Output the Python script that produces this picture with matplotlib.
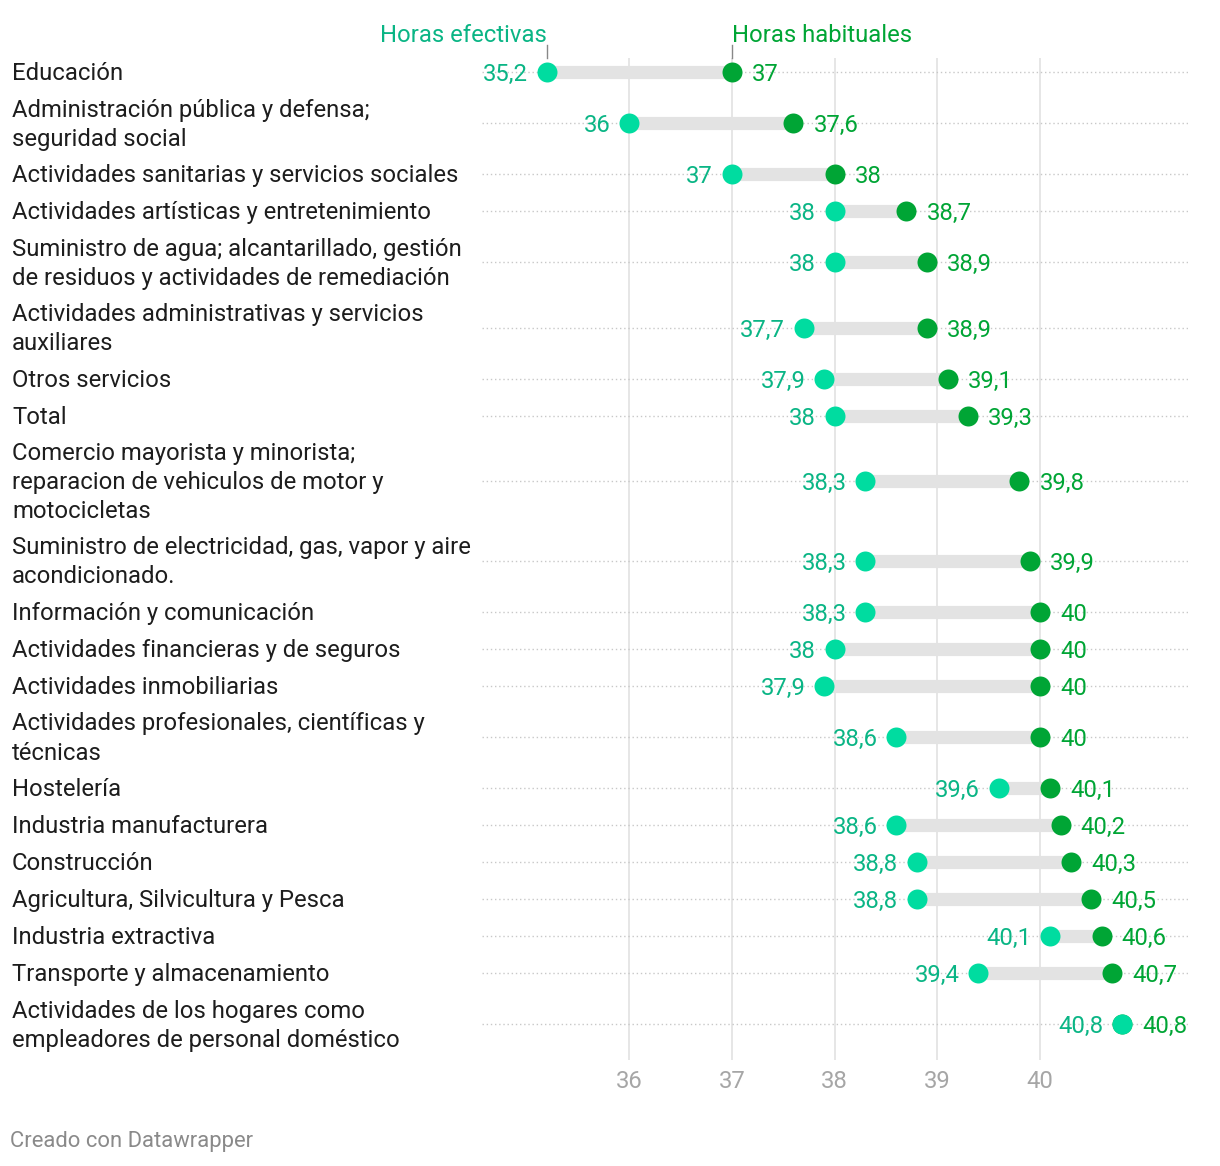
import matplotlib.pyplot as plt
import matplotlib.transforms as mtransforms
import numpy as np

plt.rcParams['font.family'] = ['Roboto', 'DejaVu Sans']

sectores = [
    "Educación",
    "Administración pública y defensa;\nseguridad social",
    "Actividades sanitarias y servicios sociales",
    "Actividades artísticas y entretenimiento",
    "Suministro de agua; alcantarillado, gestión\nde residuos y actividades de remediación",
    "Actividades administrativas y servicios\nauxiliares",
    "Otros servicios",
    "Total",
    "Comercio mayorista y minorista;\nreparacion de vehiculos de motor y\nmotocicletas",
    "Suministro de electricidad, gas, vapor y aire\nacondicionado.",
    "Información y comunicación",
    "Actividades financieras y de seguros",
    "Actividades inmobiliarias",
    "Actividades profesionales, científicas y\ntécnicas",
    "Hostelería",
    "Industria manufacturera",
    "Construcción",
    "Agricultura, Silvicultura y Pesca",
    "Industria extractiva",
    "Transporte y almacenamiento",
    "Actividades de los hogares como\nempleadores de personal doméstico",
]
horas_efectivas = [35.2, 36, 37, 38, 38, 37.7, 37.9, 38, 38.3, 38.3, 38.3,
                   38, 37.9, 38.6, 39.6, 38.6, 38.8, 38.8, 40.1, 39.4, 40.8]
horas_habituales = [37, 37.6, 38, 38.7, 38.9, 38.9, 39.1, 39.3, 39.8, 39.9, 40,
                    40, 40, 40, 40.1, 40.2, 40.3, 40.5, 40.6, 40.7, 40.8]
ticks = [36, 37, 38, 39, 40]

C_EF = "#00dca0"
C_EF_TXT = "#0ab585"
C_HAB = "#00a535"
C_GRID = "#e2e2e2"

W, H = 1220, 1166
fig = plt.figure(figsize=(W / 100, H / 100), dpi=100)

# axes placed in pixel terms
ax_left, ax_right, ax_top, ax_bottom = 482, 1188, 58, 1060
ax = fig.add_axes([ax_left / W, 1 - ax_bottom / H,
                   (ax_right - ax_left) / W, (ax_bottom - ax_top) / H])

# row heights depend on number of text lines
nlines = np.array([s.count("\n") + 1 for s in sectores])
heights = 8.7 + 28.3 * nlines
tops = np.concatenate([[0], np.cumsum(heights)[:-1]])
ypos = tops + heights / 2
start = 4.5
ax.set_ylim(start + (ax_bottom - ax_top), start)
xmin = 36 - (629 - ax_left) / 102.75
xmax = 40 + (ax_right - 1040) / 102.75
ax.set_xlim(xmin, xmax)

for t in ticks:
    ax.axvline(t, color=C_GRID, lw=1.2, zorder=0)

for y in ypos:
    ax.plot([xmin, xmax], [y, y], color="#c8c8c8", lw=1, ls=(0, (1, 2)), zorder=1)

for y, a, b in zip(ypos, horas_efectivas, horas_habituales):
    ax.plot([a, b], [y, y], color="#e3e3e3", lw=9.5, solid_capstyle="butt", zorder=2)

ax.scatter(horas_habituales, ypos, s=207, color=C_HAB, zorder=3, linewidths=0)
ax.scatter(horas_efectivas, ypos, s=207, color=C_EF, zorder=4, linewidths=0)

fs = 17.2
for y, a, b in zip(ypos, horas_efectivas, horas_habituales):
    ax.annotate(f"{a:g}".replace(".", ","), (a, y), xytext=(-13.5, 0),
                textcoords="offset points", ha="right", va="center_baseline",
                color=C_EF_TXT, fontsize=fs)
    ax.annotate(f"{b:g}".replace(".", ","), (b, y), xytext=(14.5, 0),
                textcoords="offset points", ha="left", va="center_baseline",
                color=C_HAB, fontsize=fs)

trans = mtransforms.blended_transform_factory(fig.transFigure, ax.transData)
for y, s in zip(ypos, sectores):
    ax.text(12 / W, y + 1.5, s, transform=trans, ha="left", va="center",
            fontsize=fs, color="#1d1d1d", linespacing=1.34)

# headers
ax.text(horas_efectivas[0], start - 25, "Horas efectivas", ha="right", va="center_baseline",
        fontsize=fs, color=C_EF_TXT, clip_on=False)
ax.text(horas_habituales[0], start - 25, "Horas habituales", ha="left", va="center_baseline",
        fontsize=fs, color=C_HAB, clip_on=False)
for x in (horas_efectivas[0], horas_habituales[0]):
    ax.plot([x, x], [start - 13, start], color="#888888", lw=1, clip_on=False)

ax.set_xticks(ticks)
ax.set_xticklabels([str(t) for t in ticks])
ax.tick_params(axis="x", length=0, pad=7, labelsize=fs, labelcolor="#a6a6a6")
ax.set_yticks([])
for sp in ax.spines.values():
    sp.set_visible(False)

fig.text(10 / W, 1 - 1141 / H, "Creado con Datawrapper", ha="left", va="center",
         fontsize=15.8, color="#8a8a8a")

fig.savefig("out.png", dpi=100)
plt.close(fig)
